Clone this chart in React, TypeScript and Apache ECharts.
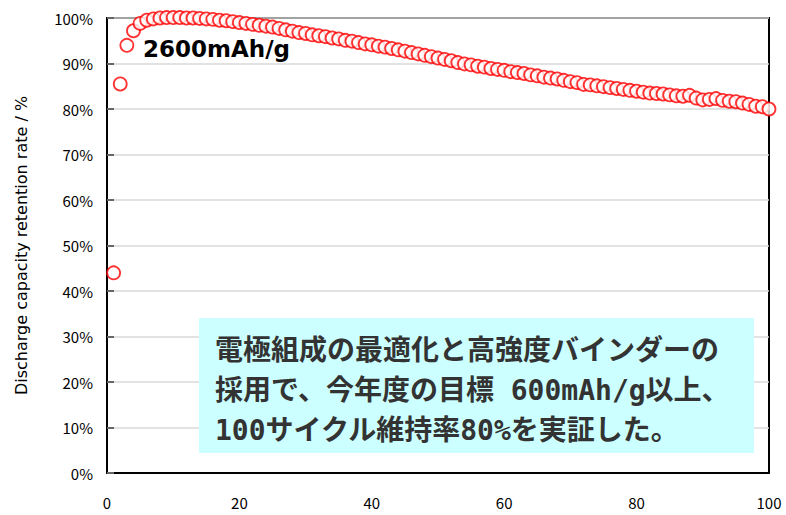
import React, { useEffect, useRef } from "react";
import * as echarts from "echarts";

const cycles: number[] = Array.from({ length: 100 }, (_, i) => i + 1);

const retention: number[] = [
  44.0, 85.5, 94.0, 97.2, 98.8, 99.5, 99.8, 100.0, 100.1, 100.1,
  100.1, 100.0, 100.0, 99.9, 99.8, 99.7, 99.5, 99.4, 99.2, 99.0,
  98.8, 98.6, 98.4, 98.2, 98.0, 97.7, 97.4, 97.1, 96.8, 96.6,
  96.3, 96.1, 95.9, 95.6, 95.4, 95.1, 94.9, 94.6, 94.3, 94.1,
  93.8, 93.6, 93.3, 93.0, 92.7, 92.4, 92.1, 91.8, 91.5, 91.2,
  90.9, 90.6, 90.2, 89.9, 89.7, 89.4, 89.2, 88.9, 88.7, 88.5,
  88.2, 88.0, 87.8, 87.5, 87.3, 87.0, 86.8, 86.6, 86.3, 86.0,
  85.8, 85.4, 85.3, 85.1, 84.9, 84.7, 84.5, 84.3, 84.1, 83.9,
  83.7, 83.5, 83.4, 83.3, 83.1, 82.9, 82.8, 83.0, 82.4, 82.0,
  82.1, 82.3, 81.9, 81.7, 81.6, 81.3, 81.0, 80.6, 80.5, 80.0,
];

const yAxisTitle = "Discharge capacity retention rate / %";
const capacityLabel = "2600mAh/g";
const noteLines: string[] = [
  "電極組成の最適化と高強度バインダーの",
  "採用で、今年度の目標 600mAh/g以上、",
  "100サイクル維持率80%を実証した。",
];

export default function App() {
  const ref = useRef<HTMLDivElement>(null);

  useEffect(() => {
    if (!ref.current) return;
    const chart = echarts.init(ref.current, undefined, { renderer: "svg" });
    const labelFont = "'Noto Sans CJK JP', 'DejaVu Sans', sans-serif";
    chart.setOption({
      animation: false,
      backgroundColor: "#ffffff",
      grid: {
        left: 107,
        right: 17,
        top: 18,
        bottom: 42,
        show: true,
        borderColor: "#000000",
        borderWidth: 2,
        backgroundColor: "transparent",
      },
      xAxis: {
        type: "value",
        min: 0,
        max: 100,
        interval: 20,
        axisLine: { show: true, lineStyle: { color: "#000", width: 2 } },
        axisTick: { show: false },
        splitLine: { show: false },
        axisLabel: {
          color: "#000",
          fontSize: 15,
          fontFamily: labelFont,
          margin: 22,
        },
      },
      yAxis: {
        type: "value",
        min: 0,
        max: 100,
        interval: 10,
        name: yAxisTitle,
        nameLocation: "middle",
        nameGap: 78,
        nameTextStyle: {
          color: "#000",
          fontSize: 16,
          fontFamily: "'DejaVu Sans', sans-serif",
        },
        axisLine: { show: true, lineStyle: { color: "#000", width: 2 } },
        axisTick: {
          show: true,
          inside: true,
          length: 7,
          lineStyle: { color: "#666", width: 2 },
        },
        splitLine: { show: true, lineStyle: { color: "#d9d9d9", width: 1.5 } },
        axisLabel: {
          color: "#000",
          fontSize: 15,
          fontFamily: labelFont,
          margin: 14,
          formatter: "{value}%",
        },
      },
      series: [
        {
          type: "scatter",
          data: cycles.map((c, i) => [c, retention[i]]),
          symbol: "circle",
          symbolSize: 13,
          clip: false,
          itemStyle: {
            color: "#ffffff",
            borderColor: "#ff0000",
            borderWidth: 1.8,
          },
          z: 5,
        },
      ],
      graphic: [
        {
          type: "text",
          left: 143,
          top: 37,
          z: 10,
          style: {
            text: capacityLabel,
            fill: "#000",
            font: "bold 23px 'DejaVu Sans', sans-serif",
          },
        },
        {
          type: "rect",
          shape: { x: 199, y: 318, width: 555, height: 135 },
          style: { fill: "#ccffff" },
          z: 10,
        },
        ...noteLines.map((line, i) => ({
          type: "text",
          x: 215,
          y: 350 + i * 40,
          z: 11,
          style: {
            text: line,
            fill: "#333333",
            font: "bold 28px 'DejaVu Sans Mono', 'Noto Sans CJK JP', sans-serif",
            verticalAlign: "middle",
          },
        })),
      ],
    });
    return () => chart.dispose();
  }, []);

  return (
    <div
      ref={ref}
      style={{ position: "fixed", left: 0, top: 0, width: 786, height: 515 }}
    />
  );
}
